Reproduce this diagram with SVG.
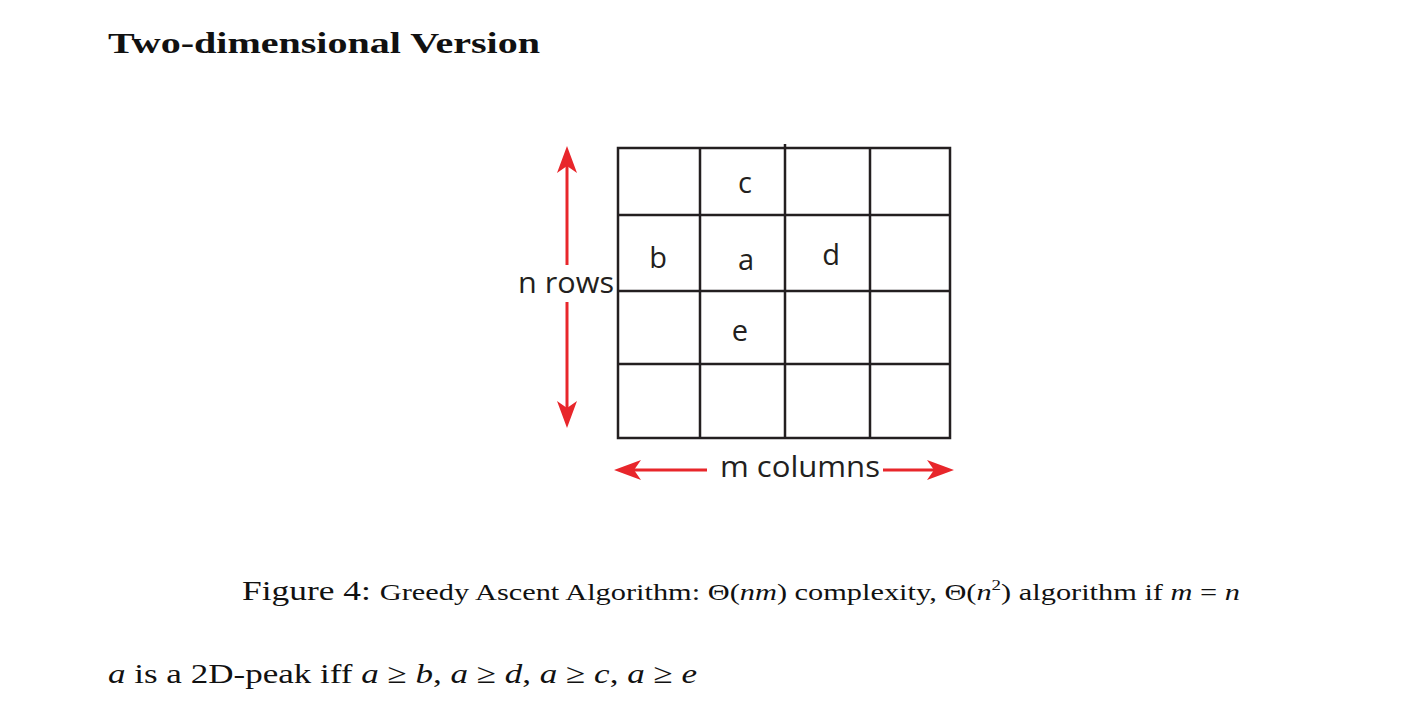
<svg xmlns="http://www.w3.org/2000/svg" width="1420" height="702" viewBox="0 0 1420 702">
<defs>
<style>
.grid{fill:none;stroke:#231f20;stroke-width:2.5}
.lbl{font-family:"Open Sans","Liberation Sans",sans-serif;font-size:29px;fill:#231f20}
.red{stroke:#e8262b;stroke-width:3;fill:none}
.head{fill:#e8262b}
.serif{font-family:"Liberation Serif","DejaVu Serif",serif;fill:#111}
</style>
</defs>
<rect width="1420" height="702" fill="#fff"/>
<text class="serif" x="108" y="53" font-size="29" font-weight="bold" textLength="432" lengthAdjust="spacingAndGlyphs">Two-dimensional Version</text>
<g id="grid">
<rect class="grid" x="618" y="148" width="332" height="290"/>
<line class="grid" x1="700" y1="148" x2="700" y2="438"/>
<line class="grid" x1="785" y1="144" x2="785" y2="438"/>
<line class="grid" x1="870" y1="148" x2="870" y2="438"/>
<line class="grid" x1="618" y1="215" x2="950" y2="215"/>
<line class="grid" x1="618" y1="291" x2="950" y2="291"/>
<line class="grid" x1="618" y1="364" x2="950" y2="364"/>
</g>
<g id="cells">
<text class="lbl" x="745" y="193" text-anchor="middle">c</text>
<text class="lbl" x="658" y="268" text-anchor="middle">b</text>
<text class="lbl" x="746" y="270" text-anchor="middle">a</text>
<text class="lbl" x="831" y="265" text-anchor="middle">d</text>
<text class="lbl" x="740" y="341" text-anchor="middle">e</text>
</g>
<g id="connectors">
<line class="red" x1="567" y1="160" x2="567" y2="265"/>
<line class="red" x1="567" y1="302" x2="567" y2="414"/>
<polygon class="head" points="567,146 577,173 567,166 557,173"/>
<polygon class="head" points="567,428 577,401 567,408 557,401"/>
<line class="red" x1="628" y1="470" x2="707" y2="470"/>
<line class="red" x1="883" y1="470" x2="940" y2="470"/>
<polygon class="head" points="614,470 641,460 634,470 641,480"/>
<polygon class="head" points="954,470 927,460 934,470 927,480"/>
</g>
<g id="axis-labels">
<text class="lbl" x="566" y="293" text-anchor="middle" textLength="96" lengthAdjust="spacingAndGlyphs">n rows</text>
<text class="lbl" x="800" y="477" text-anchor="middle" textLength="160" lengthAdjust="spacingAndGlyphs">m columns</text>
</g>
<text class="serif" x="242" y="600" font-size="28" textLength="998" lengthAdjust="spacingAndGlyphs">Figure 4: <tspan font-size="24">Greedy Ascent Algorithm: Θ(<tspan font-style="italic">nm</tspan>) complexity, Θ(<tspan font-style="italic">n</tspan><tspan font-size="15" dy="-10">2</tspan><tspan dy="10">) algorithm if </tspan><tspan font-style="italic">m</tspan> = <tspan font-style="italic">n</tspan></tspan></text>
<text class="serif" x="108" y="683" font-size="28" textLength="589" lengthAdjust="spacingAndGlyphs"><tspan font-style="italic">a</tspan> is a 2D-peak iff <tspan font-style="italic">a</tspan> ≥ <tspan font-style="italic">b</tspan>, <tspan font-style="italic">a</tspan> ≥ <tspan font-style="italic">d</tspan>, <tspan font-style="italic">a</tspan> ≥ <tspan font-style="italic">c</tspan>, <tspan font-style="italic">a</tspan> ≥ <tspan font-style="italic">e</tspan></text>
</svg>
